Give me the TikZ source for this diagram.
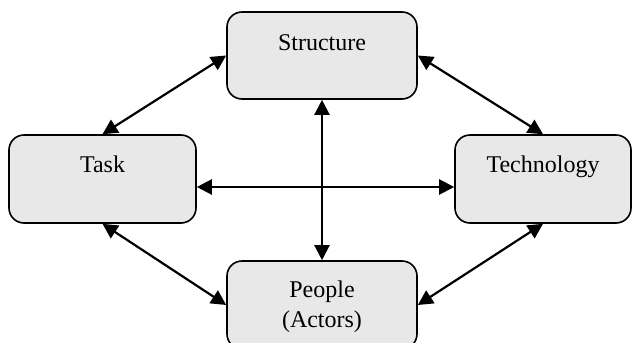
\documentclass[tikz,border=0pt]{standalone}
\usepackage{fontspec}
\setmainfont{Liberation Serif}
\usetikzlibrary{arrows.meta}
\definecolor{boxfill}{RGB}{232,232,232}
\begin{document}
\begin{tikzpicture}[x=1pt,y=-1pt,
  box/.style={draw, line width=1.6pt, rounded corners=15pt, fill=boxfill, inner sep=0pt},
  lbl/.style={inner sep=0pt, anchor=base, font=\fontsize{24}{28}\selectfont},
  arr/.style={line width=2.2pt, {Triangle[length=15pt,width=15pt]}-{Triangle[length=15pt,width=15pt]}}]
\useasboundingbox (0,0) rectangle (633,343);
\node[box, minimum width=190pt, minimum height=87pt] (S) at (322,55.5) {};
\node[box, minimum width=187pt, minimum height=88pt] (T) at (102.5,179) {};
\node[box, minimum width=176pt, minimum height=88pt] (Tc) at (543,179) {};
\node[box, minimum width=190pt, minimum height=88pt] (P) at (322,305) {};
\node[lbl] (Sl) at (322,50) {Structure};
\node[lbl] (Tl) at (102.5,172) {Task};
\node[lbl] (Tcl) at (543,172) {Technology};
\node[lbl] (Pl1) at (322,297) {People};
\node[lbl] (Pl2) at (322,327) {(Actors)};
\draw[arr] (S.west) -- (T.north);
\draw[arr] (S.east) -- (Tc.north);
\draw[arr] (T.south) -- (P.west);
\draw[arr] (Tc.south) -- (P.east);
\draw[arr] (S.south) -- (P.north);
\draw[arr] ([yshift=-8pt]T.east) -- ([yshift=-8pt]Tc.west);
\end{tikzpicture}
\end{document}
